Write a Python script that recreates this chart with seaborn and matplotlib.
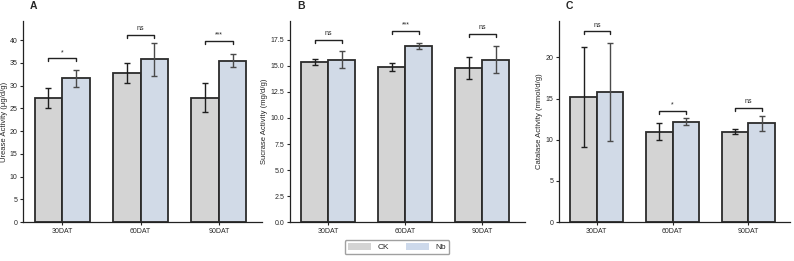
import seaborn as sns
import pandas as pd
import numpy as np
import matplotlib.pyplot as plt

days = ['30DAT', '60DAT', '90DAT']
groups = ['CK', 'Nb']

urease_ck = [27.2, 32.8, 27.4]
urease_nb = [31.6, 35.8, 35.5]
urease_ck_sd = [2.2, 2.3, 3.1]
urease_nb_sd = [1.9, 3.6, 1.4]

sucrase_ck = [15.4, 14.9, 14.8]
sucrase_nb = [15.6, 16.9, 15.6]
sucrase_ck_sd = [0.3, 0.4, 1.05]
sucrase_nb_sd = [0.8, 0.3, 1.3]

catalase_ck = [15.2, 11.0, 11.0]
catalase_nb = [15.8, 12.2, 12.0]
catalase_ck_sd = [6.1, 1.0, 0.3]
catalase_nb_sd = [5.9, 0.4, 0.9]

urease_sig = ['*', 'ns', '***']
urease_sig_y = [36.0, 41.2, 39.8]
sucrase_sig = ['ns', '***', 'ns']
sucrase_sig_y = [17.5, 18.4, 18.1]
catalase_sig = ['ns', '*', 'ns']
catalase_sig_y = [23.2, 13.5, 13.9]

panels = [
    ('A', 'Urease Activity (μg/d/g)', urease_ck, urease_nb, urease_ck_sd, urease_nb_sd,
     urease_sig, urease_sig_y, 44.2, np.arange(0, 41, 5), '{:.0f}'),
    ('B', 'Sucrase Activity (mg/d/g)', sucrase_ck, sucrase_nb, sucrase_ck_sd, sucrase_nb_sd,
     sucrase_sig, sucrase_sig_y, 19.3, np.arange(0, 17.6, 2.5), '{:.1f}'),
    ('C', 'Catalase Activity (mmol/d/g)', catalase_ck, catalase_nb, catalase_ck_sd, catalase_nb_sd,
     catalase_sig, catalase_sig_y, 24.4, np.arange(0, 21, 5), '{:.0f}'),
]

sns.set_style('ticks')
plt.rcParams['font.family'] = ['Liberation Sans', 'DejaVu Sans']

palette = {'CK': '#d4d4d4', 'Nb': '#cdd9eb'}
err_colors = {'CK': '#1e1e1e', 'Nb': '#4a4a4a'}

fig = plt.figure(figsize=(7.94, 2.61), dpi=100)
positions = [[0.029, 0.149, 0.301, 0.770],
             [0.365, 0.149, 0.296, 0.770],
             [0.704, 0.149, 0.291, 0.770]]

for pos, (letter, ylab, ck, nb, ck_sd, nb_sd, sig, sig_y, ymax, yt, fmt) in zip(positions, panels):
    ax = fig.add_axes(pos)
    df = pd.DataFrame({
        'day': days * 2,
        'group': ['CK'] * 3 + ['Nb'] * 3,
        'value': ck + nb,
        'sd': ck_sd + nb_sd,
    })
    sns.barplot(data=df, x='day', y='value', hue='group', order=days, hue_order=groups,
                palette=palette, errorbar=None, width=0.7, edgecolor='#2b2b2b',
                linewidth=1.3, ax=ax, legend=False)
    # error bars at bar centres
    bars = [p for p in ax.patches if p.get_height() > 0]
    for i, g in enumerate(groups):
        sub = df[df['group'] == g]
        for j, (v, s) in enumerate(zip(sub['value'], sub['sd'])):
            p = bars[i * 3 + j]
            xc = p.get_x() + p.get_width() / 2
            ax.errorbar(xc, v, yerr=s, fmt='none', ecolor=err_colors[g],
                        elinewidth=1.0, capsize=2, capthick=1.0, zorder=5)
    # significance brackets
    for j, (lab, y) in enumerate(zip(sig, sig_y)):
        x1 = bars[j].get_x() + bars[j].get_width() / 2
        x2 = bars[3 + j].get_x() + bars[3 + j].get_width() / 2
        h = ymax * 0.015
        ax.plot([x1, x1, x2, x2], [y - h, y, y, y - h], color='#222222', lw=1.0)
        ax.text((x1 + x2) / 2, y + ymax * 0.012, lab, ha='center', va='bottom', fontsize=5)

    ax.set_ylim(0, ymax)
    ax.set_xlim(-0.5, 2.55)
    ax.set_yticks(yt)
    ax.set_yticklabels([fmt.format(t) for t in yt], fontsize=5)
    ax.tick_params(axis='x', labelsize=5, length=2.5, width=0.8, pad=2)
    ax.tick_params(axis='y', length=2.5, width=0.8, pad=1.5)
    ax.set_xlabel('')
    ax.set_ylabel(ylab, fontsize=5.5, labelpad=1.5)
    sns.despine(ax=ax)
    for s in ['left', 'bottom']:
        ax.spines[s].set_linewidth(0.9)
        ax.spines[s].set_color('#222222')
    ax.text(0.03, 1.075, letter, transform=ax.transAxes, fontsize=7.5,
            fontweight='bold', ha='left', va='center')

handles = [plt.Rectangle((0, 0), 1, 1, facecolor=palette[g], edgecolor='none') for g in groups]
fig.legend(handles, groups, loc='lower center', bbox_to_anchor=(0.5, 0.01), ncol=2,
           fontsize=6, frameon=True, edgecolor='#888888', fancybox=True,
           handlelength=2.8, handleheight=0.9, columnspacing=2.0, borderpad=0.35,
           handletextpad=0.8)

fig.savefig('out.png', dpi=100)
